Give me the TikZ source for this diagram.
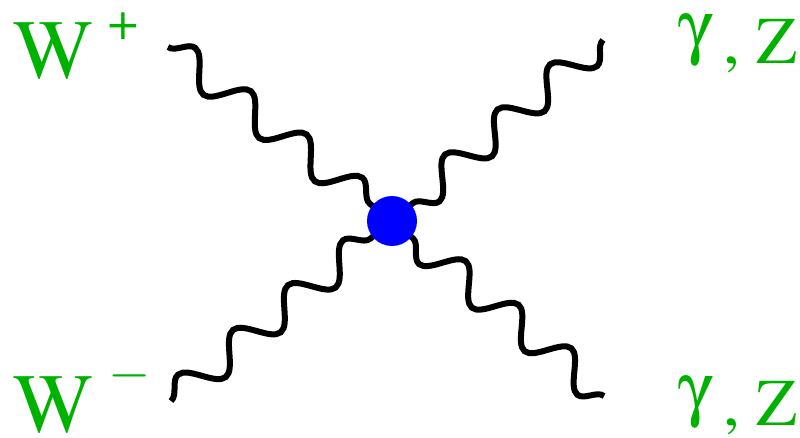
\documentclass[tikz,border=0pt]{standalone}
\usepackage[T1]{fontenc}
\usepackage{mathptmx}
\usepackage[Symbol]{upgreek}
\usetikzlibrary{decorations.pathmorphing}
\definecolor{lblgreen}{RGB}{0,178,0}
\tikzset{photon/.style={-,line width=0.12cm,decorate,
    decoration={snake,amplitude=0.32cm,segment length=#1}}}
\tikzset{lbl/.style={anchor=base west,inner sep=0pt,text=lblgreen}}

\begin{document}
\begin{tikzpicture}[x=0.02cm,y=-0.02cm]
    \useasboundingbox (0,0) rectangle (800,437);
    % vertex and outer ends of the legs
    \coordinate (v) at (392,221);
    \coordinate (a1) at (168,47);
    \coordinate (a2) at (603,40);
    \coordinate (b1) at (171,401);
    \coordinate (b2) at (604,396);
    % the four photon legs
    \draw[photon=1.411cm] (a1) -- (v);
    \draw[photon=1.383cm] (a2) -- (v);
    \draw[photon=1.418cm] (b1) -- (v);
    \draw[photon=1.368cm] (b2) -- (v);
    % blob
    \node[circle,fill=blue,minimum size=1cm,inner sep=0pt] (blob) at (v) {};
    % labels
    \node[lbl] (wp) at (13,78)
        {\fontsize{48}{48}\selectfont W\kern9pt\raisebox{22pt}[0pt][0pt]{\fontsize{30}{30}\selectfont +}};
    \node[lbl] (wm) at (13,432)
        {\fontsize{48}{48}\selectfont W\kern9pt\raisebox{24pt}[0pt][0pt]{\fontsize{31}{31}\selectfont $-$}};
    \node[lbl] (gz1) at (678,63)
        {\fontsize{38}{38}\selectfont\raisebox{7.4pt}[0pt][0pt]{\fontsize{41}{41}\selectfont $\upgamma$}\kern6pt,\kern9pt Z};
    \node[lbl] (gz2) at (678,425)
        {\fontsize{38}{38}\selectfont\raisebox{7.4pt}[0pt][0pt]{\fontsize{41}{41}\selectfont $\upgamma$}\kern6pt,\kern9pt Z};
\end{tikzpicture}
\end{document}
